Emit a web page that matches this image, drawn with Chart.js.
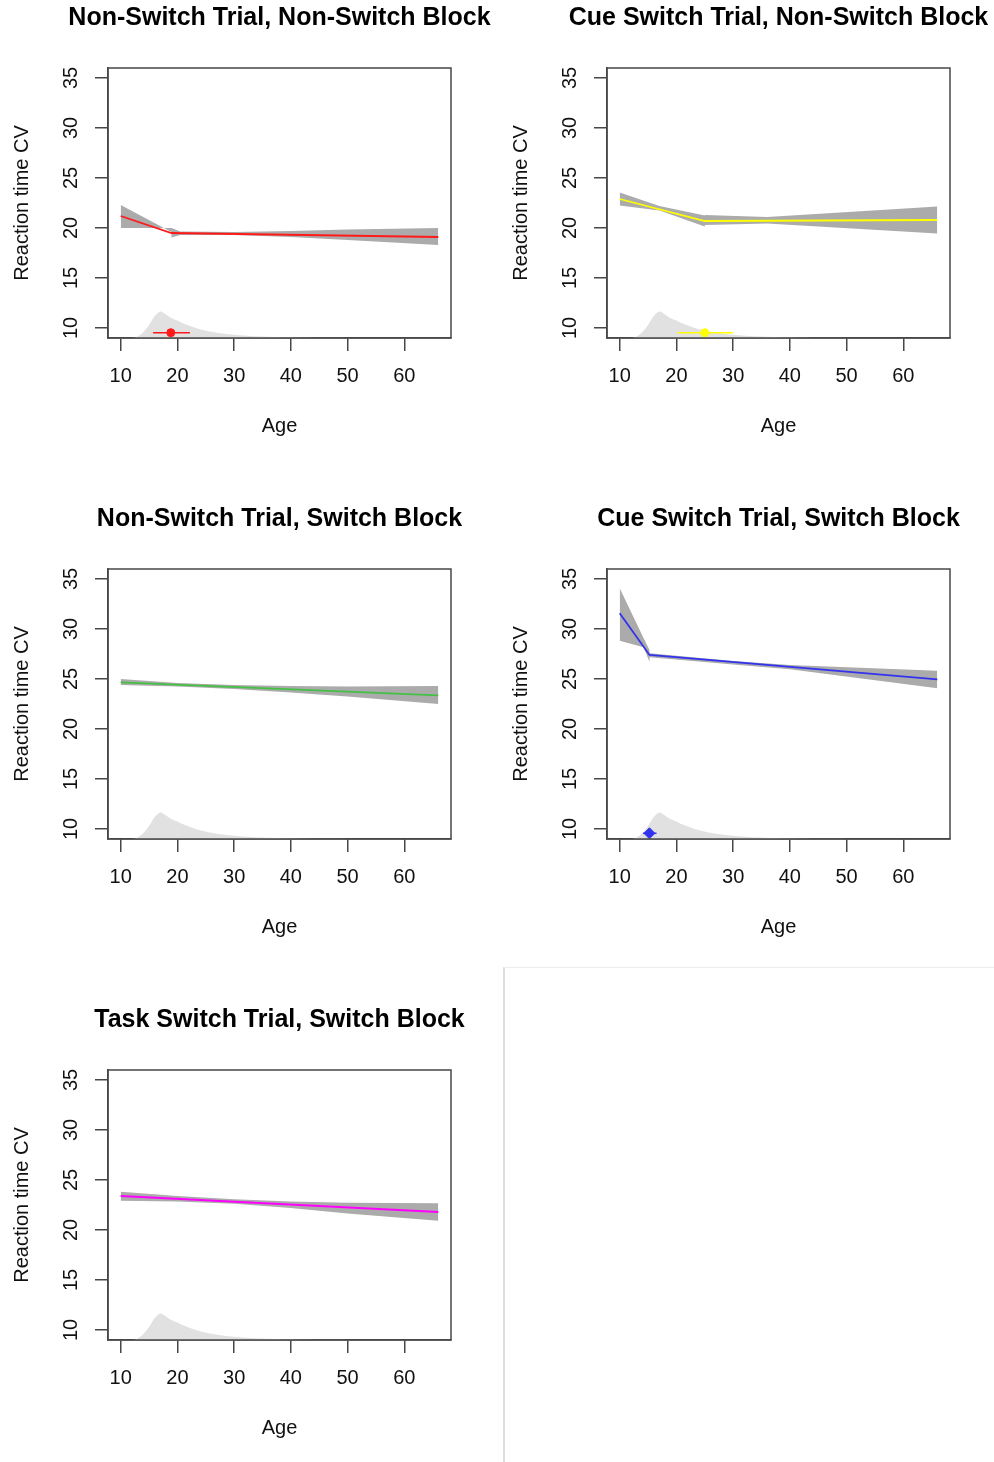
<!DOCTYPE html>
<html>
<head>
<meta charset="utf-8">
<script src="https://cdn.jsdelivr.net/npm/chart.js@4.4.1/dist/chart.umd.min.js"></script>
<style>
  html, body { margin: 0; padding: 0; background: #ffffff; }
  body { width: 994px; height: 1462px; overflow: hidden; position: relative; }
  canvas { position: absolute; }
  #blank { position: absolute; left: 503px; top: 967px; right: 0; bottom: 0;
           border-left: 2px solid #dedede; border-top: 1px solid #ededed; }
</style>
</head>
<body>
<div id="blank"></div>
<script>
// ---------- data ----------
const xTicks = [10, 20, 30, 40, 50, 60];
const yTicks = [10, 15, 20, 25, 30, 35];
const xRange = [7.76, 68.24];
const yRange = [9, 36];

const titles = [
  "Non-Switch Trial, Non-Switch Block",
  "Cue Switch Trial, Non-Switch Block",
  "Non-Switch Trial, Switch Block",
  "Cue Switch Trial, Switch Block",
  "Task Switch Trial, Switch Block"
];
const lineColors = ["#ff1a1a", "#ffff00", "#44c044", "#3333ee", "#ff00ff"];

// age distribution (light grey density at the bottom)
const densityAge = [10, 12, 13, 14, 15, 16, 17, 18, 19, 20, 21, 22, 24, 27, 31, 36, 42, 50, 66];
const densityVal = [9.0, 9.0, 9.15, 9.6, 10.3, 11.2, 11.65, 11.35, 10.97, 10.75, 10.47, 10.25, 9.87, 9.52, 9.27, 9.12, 9.05, 9.01, 9.0];

// panel 1: Non-Switch Trial, Non-Switch Block
const fitAge1 = [10, 18.95, 66];
const fitVal1 = [21.2, 19.5, 19.1];
const ciAge1 = [10, 18.95, 18.95, 20.5, 30, 40, 50, 66];
const ciUp1 = [22.3, 19.6, 20.0, 19.65, 19.6, 19.7, 19.85, 20.0];
const ciLo1 = [20.0, 20.0, 19.05, 19.3, 19.3, 19.1, 18.8, 18.3];
const brk1 = [18.83, 9.53, 15.7, 22.2];   // age, value, lower age, upper age

// panel 2: Cue Switch Trial, Non-Switch Block
const fitAge2 = [10, 25, 66];
const fitVal2 = [22.9, 20.7, 20.8];
const ciAge2 = [10, 17, 25, 25, 36, 66];
const ciUp2 = [23.55, 22.2, 21.25, 21.3, 21.1, 22.15];
const ciLo2 = [22.25, 21.75, 20.15, 20.3, 20.45, 19.45];
const brk2 = [25.0, 9.53, 20.2, 30.0];

// panel 3: Non-Switch Trial, Switch Block
const fitAge3 = [10, 66];
const fitVal3 = [24.67, 23.37];
const ciAge3 = [10, 20, 30, 40, 50, 66];
const ciUp3 = [25.0, 24.6, 24.4, 24.3, 24.25, 24.3];
const ciLo3 = [24.4, 24.25, 24.0, 23.65, 23.25, 22.5];

// panel 4: Cue Switch Trial, Switch Block
const fitAge4 = [10, 15.25, 66];
const fitVal4 = [31.57, 27.4, 24.97];
const ciAge4 = [10, 14.2, 15.25, 15.25, 30, 40, 66];
const ciUp4 = [34.07, 29.1, 27.9, 27.57, 26.8, 26.4, 25.83];
const ciLo4 = [28.83, 28.17, 26.73, 27.17, 26.45, 25.97, 24.07];
const brk4 = [15.24, 9.57, 14.1, 16.5];

// panel 5: Task Switch Trial, Switch Block
const fitAge5 = [10, 66];
const fitVal5 = [23.4, 21.8];
const ciAge5 = [10, 20, 30, 40, 50, 66];
const ciUp5 = [23.83, 23.4, 23.07, 22.85, 22.72, 22.67];
const ciLo5 = [22.93, 22.85, 22.63, 22.2, 21.65, 20.93];

// ---------- drawing ----------
const FONT = "'Liberation Sans', Arial, Helvetica, sans-serif";
Chart.defaults.font.family = FONT;
Chart.defaults.color = '#111';

const zip = (xs, ys) => xs.map((x, i) => ({x: x, y: ys[i]}));

const boxPlugin = {
  id: 'rbox',
  afterDatasetsDraw(chart) {
    const a = chart.chartArea, ctx = chart.ctx;
    ctx.save();
    ctx.strokeStyle = '#474747';
    ctx.lineWidth = 1.5;
    ctx.strokeRect(a.left, a.top, a.right - a.left, a.bottom - a.top);
    ctx.restore();
  },
  afterDraw(chart) {
    // rotated y tick labels (R style, las = 0)
    const s = chart.scales.y, ctx = chart.ctx;
    ctx.save();
    ctx.fillStyle = '#111';
    ctx.font = "20px " + FONT;
    ctx.textAlign = 'center';
    ctx.textBaseline = 'middle';
    s.ticks.forEach(t => {
      const py = s.getPixelForValue(t.value);
      ctx.save();
      ctx.translate(s.right - 36.3, py);
      ctx.rotate(-Math.PI / 2);
      ctx.fillText(String(t.value), 0, 0);
      ctx.restore();
    });
    ctx.restore();
  }
};

function makePanel(idx, col, row, fitAge, fitVal, ciAge, ciUp, ciLo, brk) {
  const cv = document.createElement('canvas');
  cv.width = 559; cv.height = 501;
  cv.style.left = (col * 499) + 'px';
  cv.style.top = (row * 501) + 'px';
  cv.style.width = '559px'; cv.style.height = '501px';
  document.body.appendChild(cv);
  const color = lineColors[idx];

  const datasets = [];
  if (brk) {
    datasets.push({
      label: 'mean age', data: [{x: brk[0], y: brk[1]}],
      showLine: false, pointRadius: idx === 3 ? 5.5 : 4, pointHoverRadius: 4,
      pointStyle: idx === 3 ? 'rectRot' : 'circle',
      pointBackgroundColor: color, pointBorderColor: color, order: 0
    });
    datasets.push({
      label: 'age range', data: [{x: brk[2], y: brk[1]}, {x: brk[3], y: brk[1]}],
      borderColor: color, borderWidth: 1.5, pointRadius: 0, fill: false, order: 0
    });
  }
  datasets.push({
    label: 'fit', data: zip(fitAge, fitVal),
    borderColor: color, borderWidth: 1.8, pointRadius: 0, fill: false, tension: 0, order: 1
  });
  datasets.push({
    label: 'ci upper', data: zip(ciAge, ciUp),
    borderColor: 'rgba(0,0,0,0)', borderWidth: 0, pointRadius: 0, tension: 0,
    backgroundColor: '#ababab', fill: '+1', order: 2
  });
  datasets.push({
    label: 'ci lower', data: zip(ciAge, ciLo),
    borderColor: 'rgba(0,0,0,0)', borderWidth: 0, pointRadius: 0, tension: 0,
    fill: false, order: 2
  });
  datasets.push({
    label: 'age density', data: zip(densityAge, densityVal),
    borderColor: 'rgba(0,0,0,0)', borderWidth: 0, pointRadius: 0, tension: 0.3,
    backgroundColor: '#e1e1e1', fill: 'start', order: 3
  });

  new Chart(cv, {
    type: 'line',
    data: { datasets: datasets },
    options: {
      responsive: false,
      animation: false,
      events: [],
      layout: { padding: 0 },
      plugins: {
        legend: { display: false },
        tooltip: { enabled: false },
        title: {
          display: true, text: titles[idx], color: '#000',
          font: { size: 25, weight: 'bold', family: FONT, lineHeight: 1.2 },
          padding: { top: 3, bottom: 35 }
        }
      },
      scales: {
        x: {
          type: 'linear', position: 'bottom', min: xRange[0], max: xRange[1],
          afterBuildTicks: s => { s.ticks = xTicks.map(v => ({value: v})); },
          afterFit: s => { s.height = 163; },
          grid: { display: true, drawOnChartArea: false, drawTicks: true, tickLength: 13,
                  color: '#474747', lineWidth: 1.5 },
          border: { display: true, color: '#474747', width: 1.5 },
          ticks: { display: true, padding: 13, color: '#111', font: { size: 20 }, maxRotation: 0 },
          title: { display: true, text: 'Age', color: '#111', font: { size: 20 },
                   padding: { top: 0, bottom: 63 } }
        },
        y: {
          type: 'linear', position: 'left', min: yRange[0], max: yRange[1],
          afterBuildTicks: s => { s.ticks = yTicks.map(v => ({value: v})); },
          afterFit: s => { s.width = 108; },
          grid: { display: true, drawOnChartArea: false, drawTicks: true, tickLength: 13,
                  color: '#474747', lineWidth: 1.5 },
          border: { display: true, color: '#474747', width: 1.5 },
          ticks: { display: false },
          title: { display: true, text: 'Reaction time CV', color: '#111', font: { size: 20 },
                   padding: { top: 10, bottom: 0 } }
        },
        yR: {
          type: 'linear', position: 'right', min: yRange[0], max: yRange[1],
          afterFit: s => { s.width = 108; },
          grid: { display: false }, border: { display: false },
          ticks: { display: false }, title: { display: false }
        }
      }
    },
    plugins: [boxPlugin]
  });
}

makePanel(0, 0, 0, fitAge1, fitVal1, ciAge1, ciUp1, ciLo1, brk1);
makePanel(1, 1, 0, fitAge2, fitVal2, ciAge2, ciUp2, ciLo2, brk2);
makePanel(2, 0, 1, fitAge3, fitVal3, ciAge3, ciUp3, ciLo3, null);
makePanel(3, 1, 1, fitAge4, fitVal4, ciAge4, ciUp4, ciLo4, brk4);
makePanel(4, 0, 2, fitAge5, fitVal5, ciAge5, ciUp5, ciLo5, null);
</script>
</body>
</html>
